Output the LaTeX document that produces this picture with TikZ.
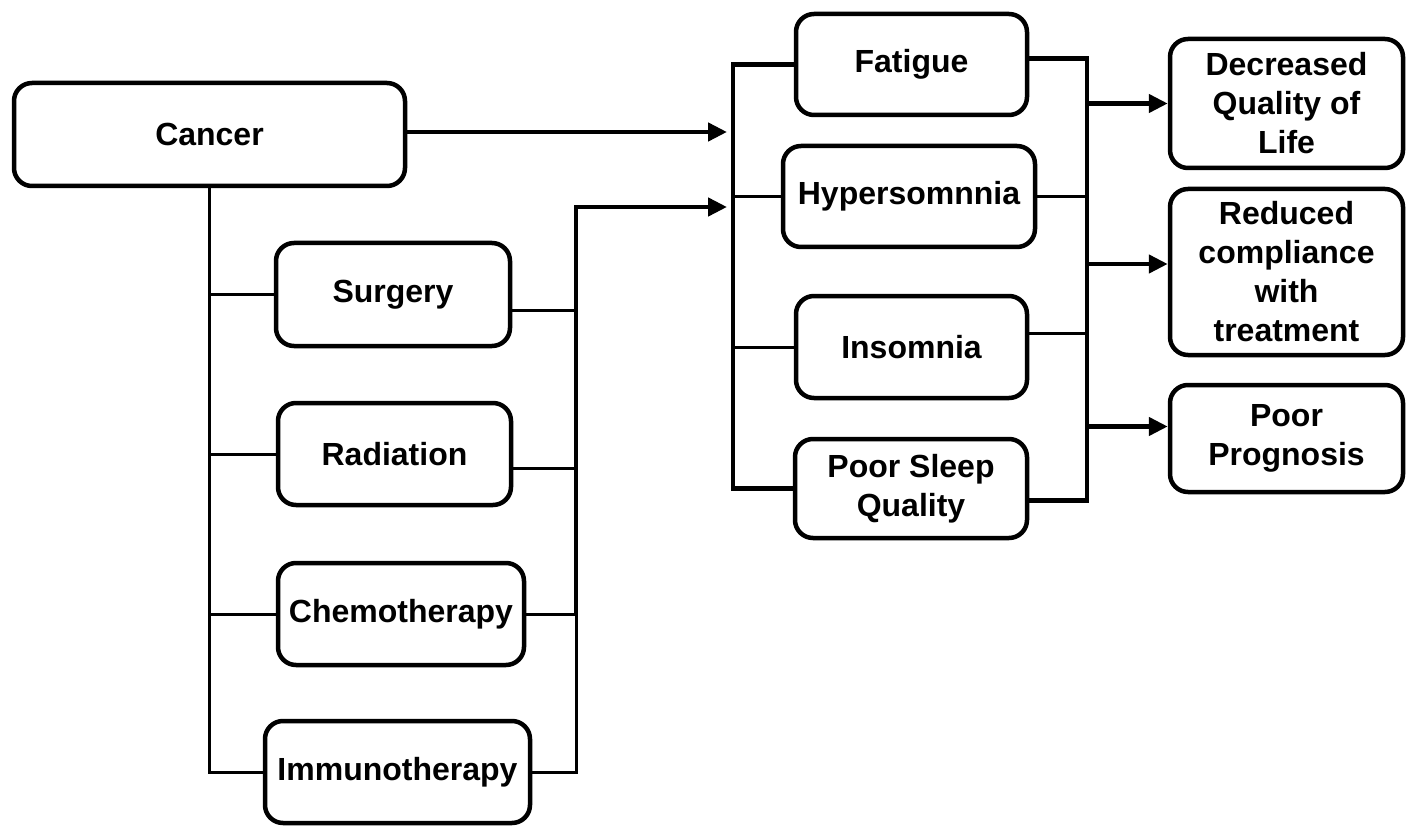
\documentclass[tikz,border=0pt]{standalone}
\usepackage{fontspec}
\setmainfont{Liberation Sans}
\usetikzlibrary{arrows.meta}

\begin{document}
\begin{tikzpicture}[
    x=1pt,y=-1pt,
    box/.style={draw,black,line width=4.5pt,rounded corners=18pt,align=center,
      inner sep=0pt,font=\bfseries\fontsize{32}{39}\selectfont},
    thinline/.style={black,line width=3pt},
    thickline/.style={black,line width=4.5pt},
    arr/.style={thickline,-{Triangle[length=19pt,width=18pt]}}
    ]
    \useasboundingbox (0,0) rectangle (1411,829);
    \node[box,minimum width=391pt,minimum height=103pt] (cancer) at (209.5,134.5) {Cancer};
    \node[box,minimum width=234pt,minimum height=103pt] (surgery) at (393,294.5) {Surgery};
    \node[box,minimum width=233pt,minimum height=102pt] (radiation) at (394.5,454) {Radiation};
    \node[box,minimum width=246pt,minimum height=102pt] (chemo) at (401,614) {Chemotherapy};
    \node[box,minimum width=265pt,minimum height=102pt] (immuno) at (397.5,772) {Immunotherapy};
    \node[box,minimum width=231pt,minimum height=101pt] (fatigue) at (911.5,64.5) {Fatigue};
    \node[box,minimum width=252pt,minimum height=101pt] (hyper) at (909,196.5) {Hypersomnnia};
    \node[box,minimum width=231pt,minimum height=102pt] (insomnia) at (911.5,347) {Insomnia};
    \node[box,minimum width=232pt,minimum height=99pt] (poorsleep) at (911,488.5) {Poor Sleep\\Quality};
    \node[box,minimum width=233pt,minimum height=129pt] (dql) at (1286.5,103.5) {Decreased\\Quality of\\Life};
    \node[box,minimum width=233pt,minimum height=166pt] (rct) at (1286.5,272) {Reduced\\compliance\\with\\treatment};
    \node[box,minimum width=233pt,minimum height=107pt] (pp) at (1286.5,438.5) {Poor\\Prognosis};
    \coordinate (inA) at (727,132);
    \coordinate (inB) at (727,207);
    \coordinate (busL) at (576,614);
    \coordinate (busM) at (733,0);
    \coordinate (busR) at (1087,0);
    \coordinate (surgE) at ([yshift=-16pt]surgery.east);
    \coordinate (radE) at ([yshift=-14pt]radiation.east);
    \coordinate (fatE) at ([yshift=6pt]fatigue.east);
    \coordinate (insE) at ([yshift=14pt]insomnia.east);
    \coordinate (psqE) at ([yshift=-12pt]poorsleep.east);
    \coordinate (rctW) at ([yshift=8pt]rct.west);
    \coordinate (ppW) at ([yshift=12pt]pp.west);
    \draw[arr] (cancer.east |- inA) -- (inA);
    \draw[thinline] (cancer.south) |- (immuno.west);
    \draw[thinline] (cancer.south |- surgery.west) -- (surgery.west);
    \draw[thinline] (cancer.south |- radiation.west) -- (radiation.west);
    \draw[thinline] (cancer.south |- chemo.west) -- (chemo.west);
    \draw[thinline] (surgE) -- (busL |- surgE);
    \draw[thinline] (radE) -- (busL |- radE);
    \draw[thinline] (chemo.east) -- (busL);
    \draw[thinline] (immuno.east) -| (busL);
    \draw[arr] (busL) |- (inB);
    \draw[thickline] (fatigue.west) -| (busM |- poorsleep.west) -- (poorsleep.west);
    \draw[thinline] (hyper.west) -- (busM |- hyper.west);
    \draw[thinline] (insomnia.west) -- (busM |- insomnia.west);
    \draw[thickline] (fatE) -| (busR |- psqE) -- (psqE);
    \draw[thinline] (hyper.east) -- (busR |- hyper.east);
    \draw[thinline] (insE) -- (busR |- insE);
    \draw[arr] (busR |- dql.west) -- (dql.west);
    \draw[arr] (busR |- rctW) -- (rctW);
    \draw[arr] (busR |- ppW) -- (ppW);
  \end{tikzpicture}
\end{document}
